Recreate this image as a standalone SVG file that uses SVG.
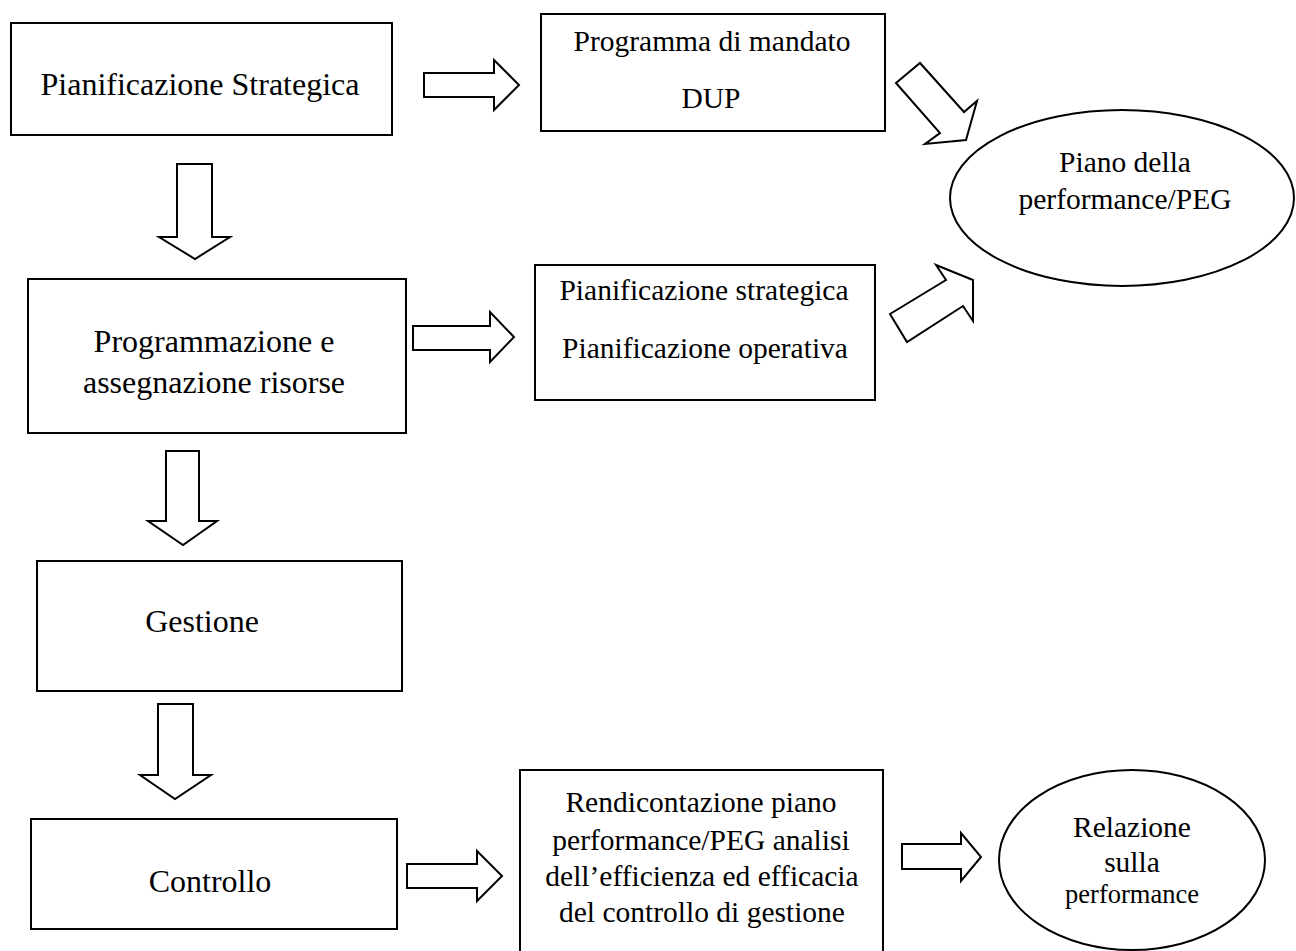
<svg xmlns="http://www.w3.org/2000/svg" width="1296" height="951" viewBox="0 0 1296 951">
<style>
.box{fill:#fff;stroke:#000;stroke-width:2}
.arr{fill:#fff;stroke:#000;stroke-width:2;stroke-linejoin:miter}
.lbl text{fill:#000;text-anchor:middle}
.t32{font-size:32px}
.t29{font-size:29.5px}
.t27{font-size:26.5px}
</style>
<rect width="1296" height="951" fill="#fff"/>
<g id="connectors">
<polygon class="arr" points="424,73 494,73 494,60 519,85 494,110 494,97 424,97"/>
<polygon class="arr" points="413,326 490,326 490,312 514,337 490,362 490,350 413,350"/>
<polygon class="arr" points="407,864 477,864 477,851 502,876 477,901 477,888 407,888"/>
<polygon class="arr" points="902,844 961,844 961,833 981,857 961,881 961,869 902,869"/>
<polygon class="arr" points="177,164 212,164 212,237 230,237 195,259 159,237 177,237"/>
<polygon class="arr" points="166,451 199,451 199,521 217,521 183,545 148,521 166,521"/>
<polygon class="arr" points="158,704 193,704 193,775 211,775 175,799 140,775 158,775"/>
<polygon class="arr" points="896,83 920,63 964,112 977,101 966,140 925,144 940,133"/>
<polygon class="arr" points="890,314 946,280 936,265 973,280 973,321 963,306 907,342"/>
</g>
<g class="lbl" font-family="'Liberation Serif', 'DejaVu Serif', 'Times New Roman', serif">
<g id="n-pianificazione">
<rect class="box" x="11" y="23" width="381" height="112"/>
<text class="t32" x="200" y="95">Pianificazione Strategica</text>
</g>
<g id="n-programma">
<rect class="box" x="541" y="14" width="344" height="117"/>
<text class="t29" x="712" y="51">Programma di mandato</text>
<text class="t29" x="711" y="108">DUP</text>
</g>
<g id="n-piano">
<ellipse class="box" cx="1122" cy="198" rx="172" ry="88"/>
<text class="t29" x="1125" y="172">Piano della</text>
<text class="t29" x="1125" y="209">performance/PEG</text>
</g>
<g id="n-programmazione">
<rect class="box" x="28" y="279" width="378" height="154"/>
<text class="t32" x="214" y="352">Programmazione e</text>
<text class="t32" x="214" y="393">assegnazione risorse</text>
</g>
<g id="n-pian-strat-op">
<rect class="box" x="535" y="265" width="340" height="135"/>
<text class="t29" x="704" y="300">Pianificazione strategica</text>
<text class="t29" x="705" y="358">Pianificazione operativa</text>
</g>
<g id="n-gestione">
<rect class="box" x="37" y="561" width="365" height="130"/>
<text class="t32" x="202" y="632">Gestione</text>
</g>
<g id="n-controllo">
<rect class="box" x="31" y="819" width="366" height="110"/>
<text class="t32" x="210" y="892">Controllo</text>
</g>
<g id="n-rendicontazione">
<rect class="box" x="520" y="770" width="363" height="190"/>
<text class="t29" x="701" y="812">Rendicontazione piano</text>
<text class="t29" x="701" y="850">performance/PEG analisi</text>
<text class="t29" x="702" y="886">dell’efficienza ed efficacia</text>
<text class="t29" x="702" y="922">del controllo di gestione</text>
</g>
<g id="n-relazione">
<ellipse class="box" cx="1132" cy="860" rx="133" ry="90"/>
<text class="t29" x="1132" y="837">Relazione</text>
<text class="t29" x="1132" y="872">sulla</text>
<text class="t27" x="1132" y="903">performance</text>
</g>
</g>
</svg>
